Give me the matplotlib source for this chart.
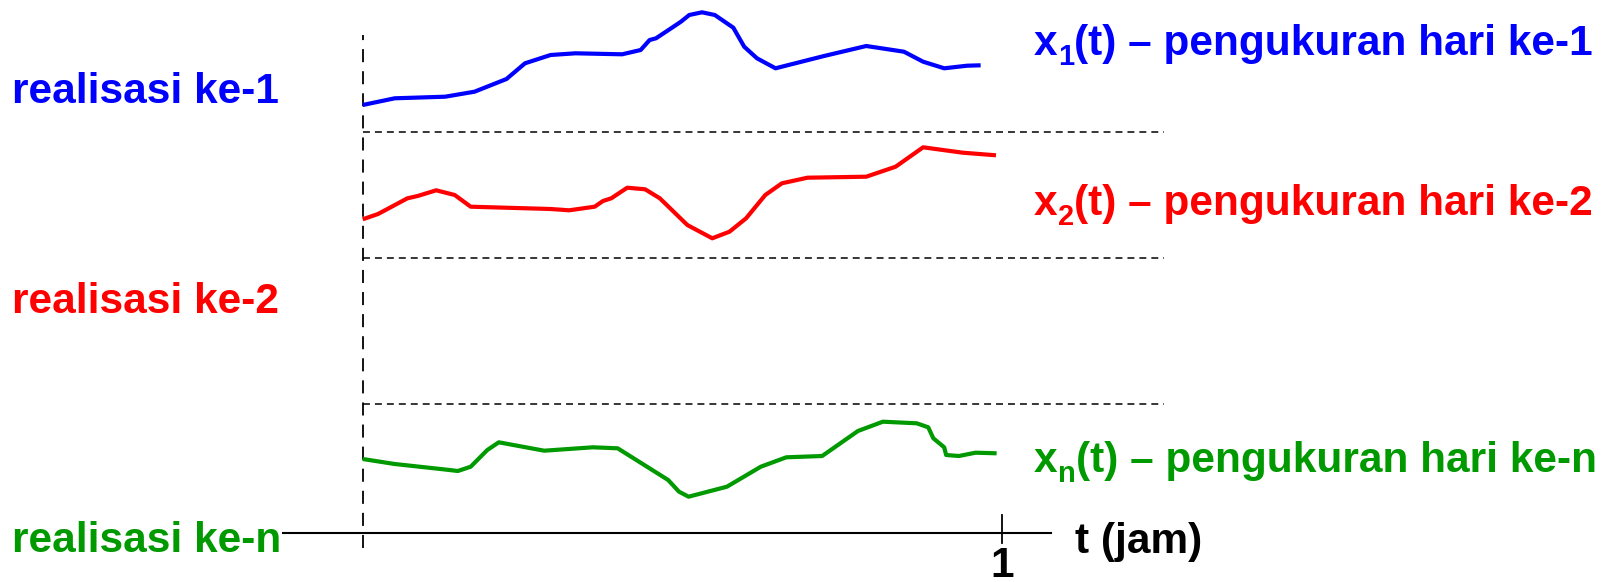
# realisasi proses acak: tiga pengukuran x(t) selama 1 jam

import matplotlib
matplotlib.use("Agg")
import matplotlib.pyplot as plt

plt.rcParams["font.family"] = ["Liberation Sans", "DejaVu Sans"]
plt.rcParams["lines.scale_dashes"] = False

# data: t in jam, level in arbitrary units above the t axis
t1 = [0.000, 0.050, 0.129, 0.175, 0.225, 0.254, 0.294, 0.333, 0.406, 0.435, 0.449, 0.459, 0.488, 0.498,
      0.511, 0.531, 0.551, 0.580, 0.597, 0.617, 0.646, 0.722, 0.788, 0.847, 0.877, 0.910, 0.946, 0.967]
x1 = [4.278, 4.345, 4.361, 4.411, 4.538, 4.695, 4.778, 4.795, 4.785, 4.828, 4.928, 4.945, 5.068, 5.111,
      5.178, 5.205, 5.178, 5.051, 4.861, 4.745, 4.645, 4.768, 4.868, 4.811, 4.711, 4.645, 4.671, 4.675]

t2 = [0.000, 0.024, 0.070, 0.086, 0.115, 0.144, 0.169, 0.294, 0.323, 0.363, 0.376, 0.389, 0.414, 0.442,
      0.465, 0.508, 0.547, 0.574, 0.600, 0.630, 0.656, 0.696, 0.788, 0.834, 0.877, 0.939, 0.991]
x2 = [3.135, 3.188, 3.345, 3.368, 3.425, 3.378, 3.261, 3.238, 3.225, 3.261, 3.318, 3.345, 3.451, 3.435,
      3.345, 3.078, 2.945, 3.011, 3.145, 3.378, 3.495, 3.551, 3.561, 3.661, 3.855, 3.801, 3.775]

tn = [0.000, 0.050, 0.126, 0.149, 0.169, 0.195, 0.213, 0.284, 0.360, 0.399, 0.478, 0.495, 0.510, 0.570,
      0.623, 0.663, 0.719, 0.775, 0.814, 0.867, 0.885, 0.893, 0.910, 0.913, 0.933, 0.959, 0.992]
xn = [0.738, 0.688, 0.635, 0.618, 0.661, 0.828, 0.905, 0.821, 0.855, 0.845, 0.528, 0.411, 0.361, 0.461,
      0.661, 0.755, 0.768, 1.018, 1.111, 1.095, 1.055, 0.945, 0.855, 0.778, 0.768, 0.801, 0.795]

series_t = [t1, t2, tn]
series_x = [x1, x2, xn]
colors = ["#0000ff", "#ff0000", "#009900"]
left_labels = ["realisasi ke-1", "realisasi ke-2", "realisasi ke-n"]
subscripts = ["1", "2", "n"]
right_rest = ["(t) \u2013 pengukuran hari ke-1",
              "(t) \u2013 pengukuran hari ke-2",
              "(t) \u2013 pengukuran hari ke-n"]
left_base = [4.301, 2.201, -0.189]
right_base = [4.778, 3.178, 0.611]
separators = [4.011, 2.745, 1.288]

fig = plt.figure(figsize=(16.16, 5.82), dpi=100)
ax = fig.add_axes([0, 0, 1, 1])
ax.set_xlim(-0.5676, 1.9613)
ax.set_ylim(-0.492, 5.328)
ax.axis("off")

# time axis, tick at t = 1 and the t = 0 guide line
ax.plot([-0.125, 1.077], [0, 0], color="black", lw=1.5)
ax.plot([1, 1], [0.178, -0.10], color="black", lw=1.3)
ax.plot([0, 0], [-0.152, 4.978], color="black", lw=1.3, dashes=(9.4, 6.5))
for s in separators:
    ax.plot([0, 1.254], [s, s], color="black", lw=1.1, dashes=(5.0, 3.6))

fs = 30.5
for t, x, c, ll, sub, rest, lb, rb in zip(series_t, series_x, colors, left_labels, subscripts,
                                          right_rest, left_base, right_base):
    ax.plot(t, x, color=c, lw=3.0, solid_joinstyle="round", solid_capstyle="butt")
    ax.text(-0.549, lb, ll, color=c, fontsize=fs, fontweight="bold", ha="left", va="baseline")
    # x_i(t) label built from pieces so the subscript sits like the original
    tx = ax.text(1.050, rb, "x", color=c, fontsize=fs, fontweight="bold", ha="left", va="baseline")
    ts = ax.annotate(sub, xy=(1, 0), xycoords=tx, xytext=(0.3, -1.0), textcoords="offset points",
                     color=c, fontsize=21, fontweight="bold", ha="left", va="baseline")
    ax.annotate(rest, xy=(1, 0), xycoords=(ts, tx), xytext=(0.3, 0), textcoords="offset points",
                color=c, fontsize=fs, fontweight="bold", ha="left", va="bottom")

ax.text(1.115, -0.202, "t (jam)", color="black", fontsize=fs, fontweight="bold", ha="left", va="baseline")
ax.text(1.0, -0.442, "1", color="black", fontsize=fs, fontweight="bold", ha="center", va="baseline")

fig.savefig("out.png", dpi=100)
